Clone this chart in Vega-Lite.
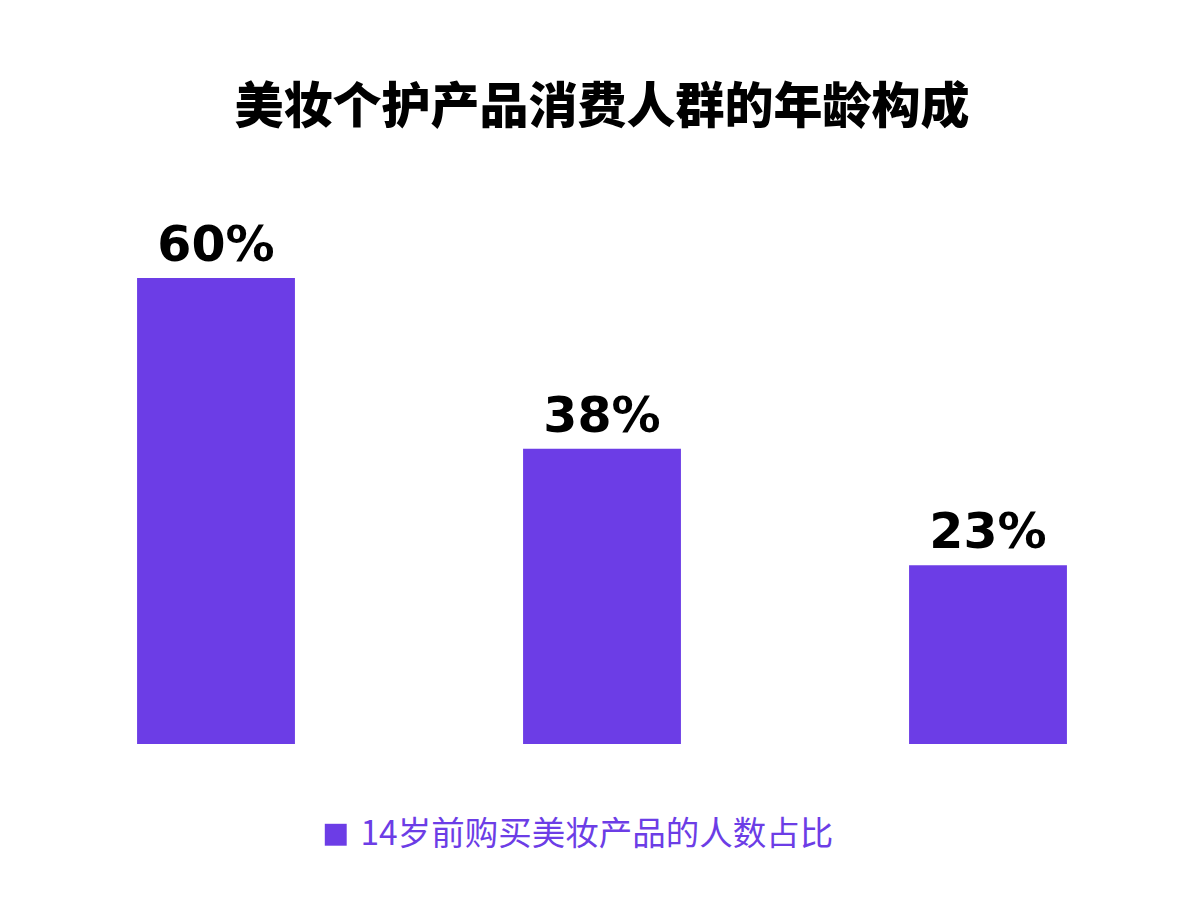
{
  "$schema": "https://vega.github.io/schema/vega-lite/v6.json",
  "autosize": "none",
  "width": 1158,
  "height": 466,
  "padding": {"left": 23, "top": 278, "right": 23, "bottom": 173},
  "background": "white",
  "title": {
    "text": "美妆个护产品消费人群的年龄构成",
    "font": "Noto Sans CJK SC",
    "fontSize": 49,
    "fontWeight": 900,
    "color": "#000000",
    "anchor": "middle",
    "offset": 89
  },
  "data": {
    "values": [
      {"group": "组1", "series": "14岁前购买美妆产品的人数占比", "value": 0.60},
      {"group": "组2", "series": "14岁前购买美妆产品的人数占比", "value": 0.38},
      {"group": "组3", "series": "14岁前购买美妆产品的人数占比", "value": 0.23}
    ]
  },
  "encoding": {
    "x": {
      "field": "group",
      "type": "nominal",
      "axis": null,
      "sort": null,
      "scale": {"paddingInner": 0.591, "paddingOuter": 0.2955}
    },
    "y": {
      "field": "value",
      "type": "quantitative",
      "axis": null,
      "scale": {"domain": [0, 0.6], "nice": false, "zero": true}
    }
  },
  "layer": [
    {
      "mark": {"type": "bar"},
      "encoding": {
        "color": {
          "field": "series",
          "type": "nominal",
          "scale": {"range": ["#6c3de6"]},
          "legend": {
            "title": null,
            "orient": "none",
            "legendX": 296,
            "legendY": 540,
            "symbolType": "square",
            "symbolSize": 480,
            "symbolStrokeWidth": 0,
            "labelFont": "Noto Sans CJK SC",
            "labelFontSize": 33.5,
            "labelColor": "#6c3de6",
            "labelLimit": 1000,
            "labelOffset": 8
          }
        }
      }
    },
    {
      "mark": {
        "type": "text",
        "font": "DejaVu Sans",
        "fontWeight": "bold",
        "fontSize": 49,
        "color": "#000000",
        "baseline": "alphabetic",
        "dy": -17
      },
      "encoding": {
        "text": {"field": "value", "type": "quantitative", "format": ".0%"}
      }
    }
  ],
  "config": {"view": {"stroke": null}}
}
